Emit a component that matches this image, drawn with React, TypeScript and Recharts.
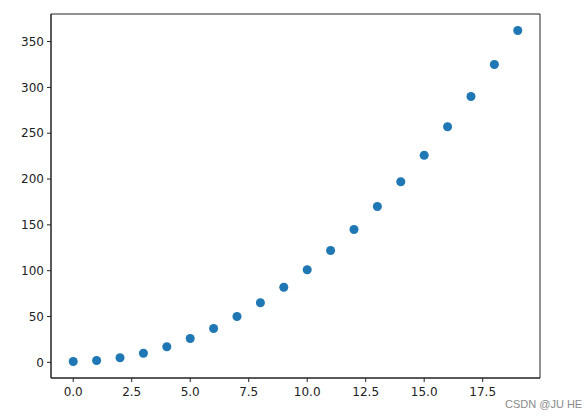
import { ScatterChart, Scatter, XAxis, YAxis, ZAxis, ReferenceArea } from "recharts";

const xValues = [0, 1, 2, 3, 4, 5, 6, 7, 8, 9, 10, 11, 12, 13, 14, 15, 16, 17, 18, 19];
const yValues = [1, 2, 5, 10, 17, 26, 37, 50, 65, 82, 101, 122, 145, 170, 197, 226, 257, 290, 325, 362];
const xTicks = [0, 2.5, 5, 7.5, 10, 12.5, 15, 17.5];
const yTicks = [0, 50, 100, 150, 200, 250, 300, 350];

const points = xValues.map((x, i) => ({ x, y: yValues[i] }));

const X_DOMAIN: [number, number] = [-0.95, 19.95];
const Y_DOMAIN: [number, number] = [-17.05, 380.05];
const AXIS = "#222";
const FONT = "'DejaVu Sans', sans-serif";

export default function App() {
  return (
    <div style={{ position: "absolute", left: 0, top: 0, width: 587, height: 418, background: "#fff" }}>
      <ScatterChart
        width={587}
        height={418}
        margin={{ top: 14, right: 47, bottom: 0, left: 0 }}
      >
        <XAxis
          type="number"
          dataKey="x"
          domain={X_DOMAIN}
          ticks={xTicks}
          allowDataOverflow
          tickFormatter={(v: number) => v.toFixed(1)}
          height={40}
          tickSize={4}
          tickMargin={5}
          stroke={AXIS}
          tick={{ fill: "#222", fontSize: 12, fontFamily: FONT }}
        />
        <YAxis
          type="number"
          dataKey="y"
          domain={Y_DOMAIN}
          ticks={yTicks}
          allowDataOverflow
          width={51}
          tickSize={4}
          tickMargin={3}
          stroke={AXIS}
          tick={{ fill: "#222", fontSize: 12, fontFamily: FONT }}
        />
        <ZAxis range={[64, 64]} />
        {/* frame: top and right spines */}
        <ReferenceArea
          x1={X_DOMAIN[0]}
          x2={X_DOMAIN[1]}
          y1={Y_DOMAIN[0]}
          y2={Y_DOMAIN[1]}
          fill="none"
          stroke={AXIS}
          strokeWidth={1}
          ifOverflow="visible"
        />
        <Scatter data={points} fill="#1f77b4" isAnimationActive={false} />
      </ScatterChart>
      <div
        style={{
          position: "absolute",
          left: 505,
          top: 398,
          fontFamily: "'Liberation Sans', Arial, sans-serif",
          fontSize: 11,
          color: "#8a8a8a",
          whiteSpace: "nowrap",
        }}
      >
        CSDN @JU HE
      </div>
    </div>
  );
}
